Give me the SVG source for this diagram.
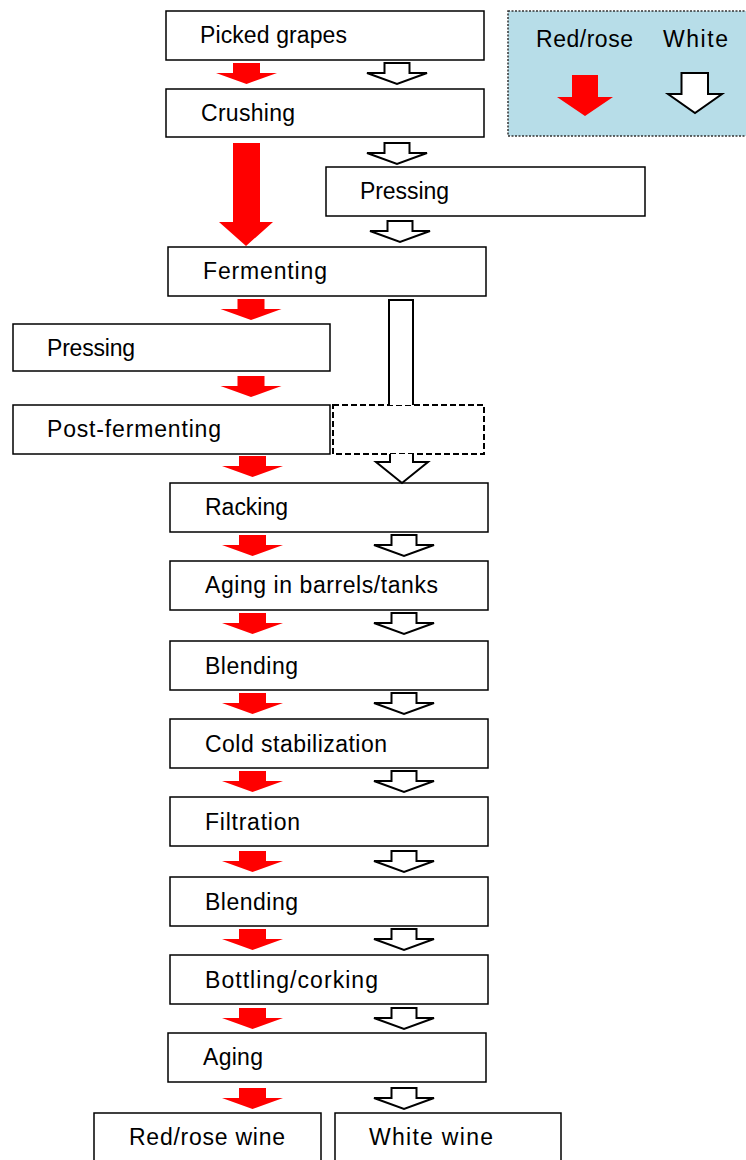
<svg xmlns="http://www.w3.org/2000/svg" xmlns:xlink="http://www.w3.org/1999/xlink" width="746" height="1160" viewBox="0 0 746 1160">
  <style>
    .box { fill: #ffffff; stroke: #000000; stroke-width: 1.5; }
    .dash { fill: #ffffff; stroke: #000000; stroke-width: 2; stroke-dasharray: 6 3; }
    .legend { fill: #b7dde8; stroke: #333333; stroke-width: 1.5; stroke-dasharray: 2 1.5; }
    .lbl { font-family: "Liberation Sans", Arial, sans-serif; font-size: 23px; fill: #000000; }
    .red { fill: #ff0000; stroke: none; }
    .white { fill: #ffffff; stroke: #000000; stroke-width: 2; stroke-linejoin: miter; }
  </style>
  <defs>
    <!-- block arrows, drawn with the top-centre of the shaft at the origin -->
    <path id="redArrow" class="red" d="M-13.5,0 H13.5 V10 H30.5 L0,21 L-30.5,10 H-13.5 Z"/>
    <path id="whiteArrow" class="white" d="M-12.5,0 H12.5 V10 H30 L0,21 L-30,10 H-12.5 Z"/>
  </defs>

  <!-- legend -->
  <g id="legend">
    <rect class="legend" x="508" y="11" width="250" height="125"/>
    <text class="lbl" x="536" y="47" textLength="97" lengthAdjust="spacing">Red/rose</text>
    <text class="lbl" x="663" y="47" textLength="65" lengthAdjust="spacing">White</text>
    <path class="red" d="M572,75 H598 V97 H613 L585,116 L557,97 H572 Z"/>
    <path class="white" d="M681.5,73 H708 V94 H722 L695,113 L668,94 H681.5 Z"/>
  </g>

  <!-- process steps -->
  <g id="picked-grapes">
    <rect class="box" x="166" y="11" width="318" height="49"/>
    <text class="lbl" x="200" y="43" textLength="147" lengthAdjust="spacing">Picked grapes</text>
  </g>
  <g id="crushing">
    <rect class="box" x="166" y="89" width="318" height="48"/>
    <text class="lbl" x="201" y="121" textLength="94" lengthAdjust="spacing">Crushing</text>
  </g>
  <g id="pressing-white">
    <rect class="box" x="326" y="167" width="319" height="49"/>
    <text class="lbl" x="360" y="199" textLength="89" lengthAdjust="spacing">Pressing</text>
  </g>
  <g id="fermenting">
    <rect class="box" x="168" y="247" width="318" height="49"/>
    <text class="lbl" x="203" y="279" textLength="124" lengthAdjust="spacing">Fermenting</text>
  </g>
  <g id="pressing-red">
    <rect class="box" x="13" y="324" width="317" height="47"/>
    <text class="lbl" x="47" y="356" textLength="88" lengthAdjust="spacing">Pressing</text>
  </g>
  <g id="post-fermenting">
    <rect class="box" x="13" y="405" width="317" height="49"/>
    <text class="lbl" x="47" y="437" textLength="174" lengthAdjust="spacing">Post-fermenting</text>
  </g>
  <g id="white-bypass">
    <rect class="dash" x="333" y="405" width="151" height="49"/>
  </g>
  <g id="racking">
    <rect class="box" x="170" y="483" width="318" height="49"/>
    <text class="lbl" x="205" y="515" textLength="83" lengthAdjust="spacing">Racking</text>
  </g>
  <g id="aging-barrels">
    <rect class="box" x="170" y="561" width="318" height="49"/>
    <text class="lbl" x="205" y="593" textLength="233" lengthAdjust="spacing">Aging in barrels/tanks</text>
  </g>
  <g id="blending-1">
    <rect class="box" x="170" y="641" width="318" height="49"/>
    <text class="lbl" x="205" y="674" textLength="93" lengthAdjust="spacing">Blending</text>
  </g>
  <g id="cold-stabilization">
    <rect class="box" x="170" y="719" width="318" height="49"/>
    <text class="lbl" x="205" y="752" textLength="182" lengthAdjust="spacing">Cold stabilization</text>
  </g>
  <g id="filtration">
    <rect class="box" x="170" y="797" width="318" height="49"/>
    <text class="lbl" x="205" y="830" textLength="95" lengthAdjust="spacing">Filtration</text>
  </g>
  <g id="blending-2">
    <rect class="box" x="170" y="877" width="318" height="49"/>
    <text class="lbl" x="205" y="910" textLength="93" lengthAdjust="spacing">Blending</text>
  </g>
  <g id="bottling">
    <rect class="box" x="170" y="955" width="318" height="49"/>
    <text class="lbl" x="205" y="988" textLength="173" lengthAdjust="spacing">Bottling/corking</text>
  </g>
  <g id="aging">
    <rect class="box" x="168" y="1033" width="318" height="49"/>
    <text class="lbl" x="203" y="1065" textLength="60" lengthAdjust="spacing">Aging</text>
  </g>
  <g id="red-rose-wine">
    <rect class="box" x="94" y="1113" width="227" height="60"/>
    <text class="lbl" x="129" y="1145" textLength="156" lengthAdjust="spacing">Red/rose wine</text>
  </g>
  <g id="white-wine">
    <rect class="box" x="335" y="1113" width="226" height="60"/>
    <text class="lbl" x="369" y="1145" textLength="124" lengthAdjust="spacing">White wine</text>
  </g>

  <!-- connectors -->
  <g id="connectors">
    <!-- picked grapes to crushing -->
    <use xlink:href="#redArrow" x="246.5" y="63"/>
    <use xlink:href="#whiteArrow" x="397" y="63"/>
    <!-- crushing onwards -->
    <path class="red" d="M233,143 H260 V222 H273 L246,246 L219,222 H233 Z"/>
    <use xlink:href="#whiteArrow" x="397" y="143"/>
    <use xlink:href="#whiteArrow" x="400" y="221"/>
    <!-- red branch through pressing and post-fermenting -->
    <use xlink:href="#redArrow" x="251" y="299"/>
    <use xlink:href="#redArrow" x="251" y="376"/>
    <use xlink:href="#redArrow" x="252.5" y="456"/>
    <!-- white branch skipping to racking -->
    <path class="white" d="M389,405 V300 H413 V405" fill="#ffffff"/>
    <path class="white" d="M390,454 V462 H376 L402,483 L428,462 H413 V454"/>
    <!-- shared steps -->
    <use xlink:href="#redArrow" x="252.5" y="535"/>
    <use xlink:href="#whiteArrow" x="404" y="535"/>
    <use xlink:href="#redArrow" x="252.5" y="613"/>
    <use xlink:href="#whiteArrow" x="404" y="613"/>
    <use xlink:href="#redArrow" x="252.5" y="693"/>
    <use xlink:href="#whiteArrow" x="404" y="693"/>
    <use xlink:href="#redArrow" x="252.5" y="771"/>
    <use xlink:href="#whiteArrow" x="404" y="771"/>
    <use xlink:href="#redArrow" x="252.5" y="851"/>
    <use xlink:href="#whiteArrow" x="404" y="851"/>
    <use xlink:href="#redArrow" x="252.5" y="929"/>
    <use xlink:href="#whiteArrow" x="404" y="929"/>
    <use xlink:href="#redArrow" x="252.5" y="1008"/>
    <use xlink:href="#whiteArrow" x="404" y="1008"/>
    <use xlink:href="#redArrow" x="252.5" y="1088"/>
    <use xlink:href="#whiteArrow" x="404" y="1088"/>
  </g>
</svg>
